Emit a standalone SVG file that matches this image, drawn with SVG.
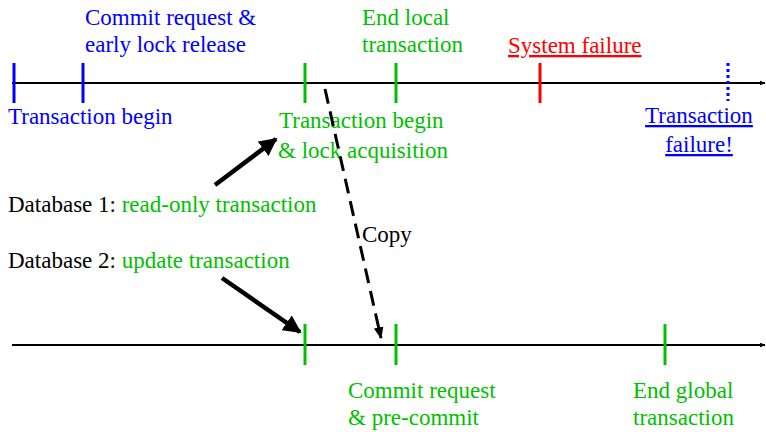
<svg xmlns="http://www.w3.org/2000/svg" width="766" height="432" viewBox="0 0 766 432">
<defs>
<style>
text{font-family:"Liberation Serif","Times New Roman",serif;font-size:23px}
.b{fill:#0000ff}.g{fill:#00c000}.r{fill:#ff0000}.k{fill:#000}
.u{text-decoration:underline}
.axis{stroke:#000;stroke-width:2;fill:none}
.tick{stroke-width:3;fill:none}
.arr{stroke:#000;stroke-width:4.5;fill:none}
</style>
<marker id="ah" viewBox="0 0 10 10" refX="9" refY="5" markerWidth="4" markerHeight="4" orient="auto" markerUnits="strokeWidth"><path d="M0,0 L10,5 L0,10 z" fill="#000"/></marker>
<marker id="ax" viewBox="0 0 10 10" refX="9" refY="5" markerWidth="3" markerHeight="3" orient="auto" markerUnits="strokeWidth"><path d="M0,1 L10,5 L0,9 z" fill="#000"/></marker>
<marker id="ad" viewBox="0 0 10 10" refX="9" refY="5" markerWidth="4" markerHeight="4" orient="auto" markerUnits="strokeWidth"><path d="M0,1 L10,5 L0,9 z" fill="#000"/></marker>
</defs>
<g id="timeline-db1">
<line class="axis" x1="12" y1="83" x2="765" y2="83" marker-end="url(#ax)"/>
<line class="tick" stroke="#0000ff" x1="14" y1="63" x2="14" y2="103"/>
<line class="tick" stroke="#0000ff" x1="83" y1="63" x2="83" y2="103"/>
<line class="tick" stroke="#00c000" x1="305" y1="63" x2="305" y2="103"/>
<line class="tick" stroke="#00c000" x1="396" y1="63" x2="396" y2="103"/>
<line class="tick" stroke="#ff0000" x1="540" y1="63" x2="540" y2="103"/>
<line class="tick" stroke="#0000ff" stroke-dasharray="3,3" x1="728" y1="63" x2="728" y2="101"/>
</g>
<g id="timeline-db2">
<line class="axis" x1="12" y1="345" x2="765" y2="345" marker-end="url(#ax)"/>
<line class="tick" stroke="#00c000" x1="305" y1="324" x2="305" y2="365"/>
<line class="tick" stroke="#00c000" x1="396" y1="324" x2="396" y2="365"/>
<line class="tick" stroke="#00c000" x1="665" y1="324" x2="665" y2="365"/>
</g>
<g id="labels-top">
<text class="b" x="85" y="25">Commit request &amp;</text>
<text class="b" x="85" y="52">early lock release</text>
<text class="b" x="8" y="124">Transaction begin</text>
<text class="g" x="362" y="25">End local</text>
<text class="g" x="362" y="52">transaction</text>
<text class="r u" x="508" y="53">System failure</text>
<text class="b u" x="699" y="123" text-anchor="middle">Transaction</text>
<text class="b u" x="699" y="152" text-anchor="middle">failure!</text>
<text class="g" x="279" y="128">Transaction begin</text>
<text class="g" x="278" y="158">&amp; lock acquisition</text>
</g>
<g id="labels-db">
<text class="k" x="8" y="212">Database 1: <tspan class="g">read-only transaction</tspan></text>
<text class="k" x="8" y="268">Database 2: <tspan class="g">update transaction</tspan></text>
</g>
<g id="labels-bottom">
<text class="g" x="348" y="398">Commit request</text>
<text class="g" x="348" y="425">&amp; pre-commit</text>
<text class="g" x="633" y="398">End global</text>
<text class="g" x="633" y="425">transaction</text>
</g>
<g id="connectors">
<line class="arr" x1="215" y1="185" x2="276" y2="139" marker-end="url(#ah)"/>
<line class="arr" x1="222" y1="278" x2="300" y2="332" marker-end="url(#ah)"/>
<line stroke="#000" stroke-width="3" stroke-dasharray="15,8" x1="325" y1="89" x2="381" y2="338" marker-end="url(#ad)"/>
<text class="k" x="362" y="242">Copy</text>
</g>
</svg>
